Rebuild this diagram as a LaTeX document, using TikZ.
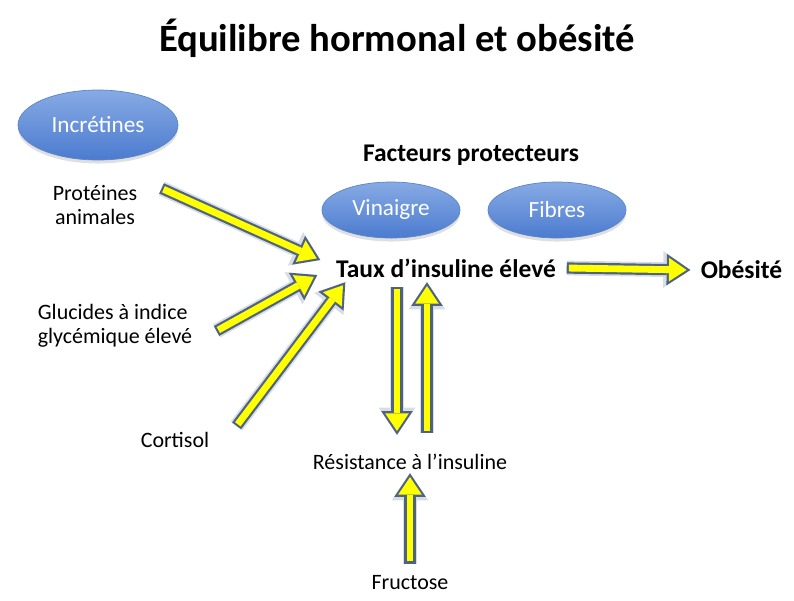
\documentclass[tikz,border=0pt]{standalone}
\usepackage{fontspec}
\setmainfont{Carlito}
\usepackage{tikz}
\usetikzlibrary{arrows.meta,calc,positioning,shapes.geometric,shadows}
\definecolor{slate}{HTML}{4E6283}
\definecolor{hyel}{HTML}{FFFF00}
\definecolor{bubtop}{HTML}{86AAE4}
\definecolor{bubbot}{HTML}{4C7BCF}
\definecolor{bubline}{HTML}{5A86C8}
\newcommand{\barrow}[2]{%
  \draw[arrglow] #1 -- #2;
  \draw[arrout] #1 -- #2;
  \draw[arrin] #1 -- #2;}

\begin{document}
\begin{tikzpicture}[
  bubble/.style={ellipse,draw=bubline,top color=bubtop,bottom color=bubbot,text=white,
    font=\fontsize{13.2}{15}\selectfont,drop shadow={opacity=0.25,shadow xshift=0pt,shadow yshift=-2pt}},
  txt/.style={inner sep=0pt,align=center,font=\fontsize{12.5}{13.8}\selectfont},
  btxt/.style={inner sep=0pt,align=center,font=\fontsize{14.5}{17}\selectfont\bfseries},
  arrglow/.style={line width=8.4pt,draw=slate,opacity=0.22,-{Triangle[width=21pt,length=15.5pt,line width=0pt]}},
  arrout/.style={line width=6.4pt,draw=slate,-{Triangle[width=18pt,length=13.5pt,line width=0pt]}},
  arrin/.style={line width=3.9pt,draw=hyel,-{Triangle[width=13.4pt,length=10pt,line width=0pt]},
    shorten >=2.2pt,shorten <=1.2pt}]
  \useasboundingbox (0,0) rectangle (15.88,-12);
  \node[font=\fontsize{22}{26}\selectfont\bfseries] (title) at (7.94,-0.76) {Équilibre hormonal et obésité};
  \node[bubble,minimum width=3.2cm,minimum height=1.4cm] (incr) at (1.96,-2.5) {Incrétines};
  \node[btxt] (fact) at (9.42,-3.1) {Facteurs protecteurs};
  \node[bubble,minimum width=2.76cm,minimum height=1.12cm] (vin) at (7.82,-4.2) {Vinaigre};
  \node[bubble,minimum width=2.76cm,minimum height=1.12cm] (fib) at (11.14,-4.2) {Fibres};
  \node[btxt] (taux) at (8.92,-5.36) {Taux d’insuline élevé};
  \node[btxt] (obes) at (14.83,-5.4) {Obésité};
  \node[txt] (prot) at (1.9,-4.1) {Protéines\\animales};
  \node[txt,align=left] (gluc) at (2.3,-6.52) {Glucides à indice\\glycémique élevé};
  \node[txt] (cort) at (3.5,-8.8) {Cortisol};
  \node[txt] (res) at (8.2,-9.24) {Résistance à l’insuline};
  \node[txt] (fruc) at (8.2,-11.66) {Fructose};
  % arrows into the insulin level
  \barrow{([shift={(0.48,-0.07)}]prot.north east)}{([shift={(-0.31,0.16)}]taux.west)}
  \barrow{([shift={(0.48,-0.1)}]gluc.east)}{([shift={(-0.37,-0.14)}]taux.west)}
  \barrow{([shift={(0.54,0.12)}]cort.north east)}{([shift={(0.19,-0.09)}]taux.south west)}
  \barrow{([shift={(0.21,0)}]taux.east)}{([shift={(-0.2,0)}]obes.west)}
  % loop with the resistance
  \barrow{([shift={(-0.98,-0.19)}]taux.south)}{([shift={(-0.26,0.38)}]res.north)}
  \barrow{([shift={(0.34,0.42)}]res.north)}{([shift={(-0.38,-0.09)}]taux.south)}
  \barrow{([shift={(0,0.24)}]fruc.north)}{([shift={(0,-0.06)}]res.south)}
\end{tikzpicture}
\end{document}
